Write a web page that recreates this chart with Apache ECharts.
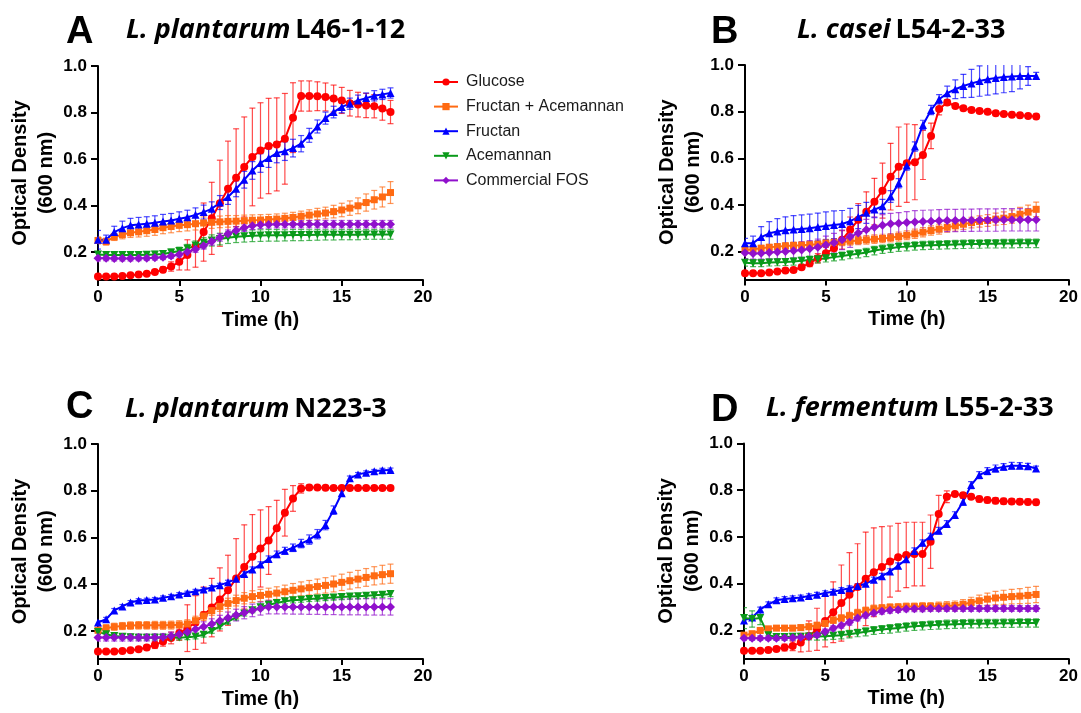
<!DOCTYPE html>
<html>
<head>
<meta charset="utf-8">
<script src="https://cdn.jsdelivr.net/npm/echarts@6/dist/echarts.min.js"></script>
<style>
html,body{margin:0;padding:0;background:#fff;}
#c{width:1081px;height:713px;}
</style>
</head>
<body>
<div id="c"></div>
<script>
// ---------- DATA ----------
const TIME = [0,0.5,1,1.5,2,2.5,3,3.5,4,4.5,5,5.5,6,6.5,7,7.5,8,8.5,9,9.5,10,10.5,11,11.5,12,12.5,13,13.5,14,14.5,15,15.5,16,16.5,17,17.5,18];
const X_TICKS = [0,5,10,15,20];
const Y_TICKS = [0.2,0.4,0.6,0.8,1.0];
const SERIES_NAMES = ['Glucose','Fructan + Acemannan','Fructan','Acemannan','Commercial FOS'];
const PANEL_LETTERS = ['A','B','C','D'];
const PANEL_SPECIES = ['L. plantarum','L. casei','L. plantarum','L. fermentum'];
const PANEL_STRAINS = ['L46-1-12','L54-2-33','N223-3','L55-2-33'];

// Panel A
const A_GLU = [0.095,0.095,0.095,0.097,0.100,0.104,0.107,0.114,0.124,0.138,0.158,0.188,0.225,0.286,0.345,0.410,0.472,0.520,0.566,0.609,0.637,0.656,0.663,0.687,0.778,0.871,0.871,0.870,0.867,0.860,0.852,0.840,0.834,0.830,0.827,0.817,0.802];
const A_GLU_SD = [0.005,0.005,0.005,0.005,0.005,0.006,0.007,0.010,0.012,0.020,0.035,0.065,0.090,0.125,0.155,0.185,0.205,0.210,0.215,0.210,0.205,0.205,0.200,0.195,0.150,0.065,0.065,0.062,0.060,0.058,0.056,0.055,0.053,0.052,0.050,0.050,0.050];
const A_FA = [0.250,0.245,0.265,0.275,0.283,0.287,0.292,0.297,0.305,0.310,0.315,0.318,0.322,0.325,0.328,0.330,0.332,0.333,0.335,0.337,0.338,0.340,0.342,0.345,0.349,0.354,0.359,0.364,0.368,0.374,0.381,0.389,0.399,0.413,0.425,0.437,0.456];
const A_FA_SD = [0.015,0.015,0.015,0.018,0.020,0.022,0.024,0.025,0.026,0.027,0.027,0.027,0.027,0.026,0.026,0.025,0.025,0.024,0.024,0.023,0.023,0.022,0.022,0.022,0.022,0.022,0.023,0.024,0.025,0.027,0.029,0.031,0.034,0.037,0.040,0.043,0.047];
const A_FRU = [0.253,0.253,0.286,0.303,0.315,0.319,0.322,0.326,0.332,0.336,0.343,0.350,0.360,0.372,0.386,0.413,0.437,0.472,0.511,0.551,0.583,0.604,0.626,0.634,0.647,0.666,0.702,0.740,0.776,0.802,0.824,0.838,0.852,0.862,0.872,0.878,0.884];
const A_FRU_SD = [0.040,0.020,0.025,0.030,0.030,0.030,0.030,0.030,0.030,0.030,0.030,0.030,0.030,0.030,0.030,0.030,0.032,0.034,0.036,0.038,0.040,0.040,0.042,0.040,0.038,0.035,0.030,0.028,0.026,0.025,0.025,0.024,0.023,0.022,0.022,0.022,0.022];
const A_ACE = [0.190,0.188,0.188,0.188,0.188,0.188,0.189,0.190,0.192,0.198,0.205,0.215,0.228,0.240,0.250,0.256,0.262,0.266,0.268,0.270,0.271,0.272,0.272,0.272,0.273,0.273,0.273,0.274,0.274,0.274,0.275,0.275,0.275,0.276,0.276,0.276,0.276];
const A_ACE_SD = [0.010,0.010,0.012,0.012,0.012,0.012,0.012,0.013,0.014,0.015,0.016,0.018,0.020,0.022,0.024,0.025,0.025,0.025,0.025,0.025,0.025,0.025,0.025,0.024,0.024,0.024,0.023,0.023,0.022,0.022,0.022,0.022,0.022,0.021,0.021,0.021,0.021];
const A_FOS = [0.174,0.173,0.172,0.172,0.172,0.173,0.174,0.176,0.178,0.183,0.190,0.200,0.212,0.227,0.245,0.263,0.279,0.293,0.305,0.313,0.317,0.319,0.320,0.320,0.320,0.320,0.320,0.320,0.320,0.320,0.320,0.320,0.320,0.320,0.320,0.320,0.320];
const A_FOS_SD = [0.012,0.010,0.010,0.010,0.010,0.010,0.010,0.010,0.010,0.010,0.011,0.012,0.013,0.014,0.015,0.016,0.016,0.016,0.016,0.016,0.016,0.016,0.016,0.016,0.016,0.016,0.016,0.016,0.016,0.016,0.016,0.016,0.016,0.016,0.016,0.016,0.016];

// Panel B
const B_GLU = [0.107,0.107,0.107,0.110,0.114,0.119,0.121,0.133,0.150,0.171,0.193,0.214,0.250,0.293,0.336,0.371,0.414,0.461,0.521,0.564,0.579,0.583,0.614,0.696,0.811,0.839,0.824,0.814,0.807,0.803,0.799,0.793,0.790,0.787,0.784,0.781,0.779];
const B_GLU_SD = [0.005,0.005,0.005,0.005,0.006,0.007,0.008,0.010,0.015,0.020,0.025,0.030,0.040,0.055,0.070,0.085,0.100,0.118,0.143,0.170,0.168,0.161,0.105,0.055,0.025,0.012,0.010,0.010,0.010,0.010,0.010,0.010,0.010,0.010,0.010,0.010,0.010];
const B_FA = [0.207,0.210,0.214,0.218,0.221,0.224,0.226,0.227,0.229,0.231,0.236,0.239,0.241,0.244,0.247,0.250,0.253,0.256,0.259,0.264,0.270,0.276,0.283,0.290,0.296,0.304,0.310,0.317,0.324,0.329,0.333,0.339,0.343,0.350,0.360,0.369,0.381];
const B_FA_SD = [0.012,0.012,0.012,0.013,0.013,0.014,0.014,0.015,0.015,0.015,0.016,0.016,0.016,0.017,0.017,0.018,0.018,0.018,0.018,0.019,0.019,0.020,0.020,0.020,0.021,0.021,0.022,0.022,0.023,0.024,0.025,0.026,0.027,0.028,0.029,0.030,0.031];
const B_FRU = [0.236,0.236,0.262,0.278,0.286,0.291,0.294,0.297,0.300,0.305,0.310,0.314,0.318,0.330,0.348,0.366,0.380,0.394,0.436,0.493,0.569,0.650,0.743,0.807,0.853,0.879,0.896,0.910,0.921,0.931,0.939,0.944,0.949,0.951,0.953,0.953,0.953];
const B_FRU_SD = [0.020,0.030,0.045,0.050,0.055,0.058,0.060,0.060,0.060,0.060,0.060,0.060,0.058,0.055,0.050,0.045,0.035,0.030,0.025,0.020,0.020,0.020,0.020,0.020,0.020,0.030,0.040,0.050,0.060,0.065,0.068,0.068,0.068,0.065,0.055,0.040,0.015];
const B_ACE = [0.152,0.150,0.150,0.153,0.154,0.155,0.157,0.160,0.164,0.167,0.171,0.176,0.181,0.186,0.190,0.196,0.204,0.210,0.214,0.219,0.221,0.224,0.226,0.227,0.228,0.229,0.230,0.231,0.232,0.232,0.233,0.233,0.234,0.234,0.235,0.235,0.235];
const B_ACE_SD = [0.015,0.015,0.015,0.015,0.015,0.015,0.015,0.015,0.016,0.016,0.016,0.016,0.017,0.017,0.017,0.018,0.018,0.018,0.018,0.018,0.018,0.018,0.018,0.018,0.018,0.018,0.018,0.018,0.018,0.018,0.018,0.018,0.018,0.018,0.018,0.018,0.018];
const B_FOS = [0.195,0.192,0.193,0.196,0.198,0.200,0.203,0.207,0.212,0.218,0.228,0.238,0.250,0.263,0.279,0.293,0.304,0.313,0.319,0.321,0.324,0.327,0.329,0.330,0.332,0.333,0.333,0.334,0.334,0.335,0.335,0.335,0.336,0.336,0.336,0.336,0.336];
const B_FOS_SD = [0.025,0.025,0.025,0.028,0.030,0.030,0.032,0.035,0.035,0.035,0.038,0.040,0.042,0.045,0.045,0.045,0.045,0.045,0.045,0.046,0.047,0.048,0.048,0.048,0.048,0.048,0.048,0.048,0.048,0.048,0.048,0.048,0.048,0.048,0.048,0.048,0.048];

// Panel C
const C_GLU = [0.112,0.112,0.112,0.114,0.117,0.122,0.129,0.140,0.155,0.170,0.190,0.212,0.236,0.268,0.300,0.335,0.374,0.425,0.474,0.518,0.553,0.587,0.639,0.706,0.767,0.810,0.814,0.814,0.813,0.812,0.812,0.812,0.812,0.812,0.812,0.812,0.812];
const C_GLU_SD = [0.005,0.005,0.005,0.005,0.006,0.008,0.010,0.015,0.020,0.025,0.030,0.100,0.115,0.120,0.125,0.135,0.150,0.170,0.180,0.180,0.165,0.145,0.120,0.100,0.055,0.020,0.010,0.008,0.008,0.008,0.008,0.008,0.008,0.008,0.008,0.008,0.008];
const C_FA = [0.203,0.212,0.218,0.221,0.223,0.224,0.224,0.224,0.224,0.225,0.226,0.230,0.244,0.264,0.287,0.305,0.318,0.330,0.340,0.347,0.352,0.357,0.362,0.368,0.374,0.380,0.385,0.390,0.395,0.401,0.408,0.415,0.422,0.429,0.436,0.441,0.445];
const C_FA_SD = [0.015,0.015,0.015,0.015,0.016,0.016,0.016,0.017,0.017,0.017,0.018,0.018,0.019,0.019,0.020,0.021,0.022,0.023,0.024,0.025,0.026,0.026,0.027,0.028,0.029,0.030,0.031,0.032,0.033,0.034,0.035,0.036,0.037,0.038,0.039,0.040,0.041];
const C_FRU = [0.236,0.250,0.288,0.305,0.322,0.330,0.332,0.335,0.342,0.348,0.356,0.362,0.370,0.377,0.386,0.396,0.408,0.423,0.444,0.463,0.484,0.508,0.528,0.543,0.556,0.574,0.591,0.614,0.653,0.717,0.789,0.853,0.870,0.877,0.883,0.888,0.889];
const C_FRU_SD = [0.008,0.008,0.008,0.008,0.008,0.008,0.008,0.008,0.008,0.008,0.008,0.008,0.008,0.008,0.008,0.008,0.009,0.010,0.010,0.011,0.012,0.013,0.014,0.015,0.016,0.018,0.020,0.020,0.020,0.018,0.012,0.010,0.008,0.008,0.008,0.008,0.008];
const C_ACE = [0.196,0.186,0.178,0.175,0.173,0.171,0.171,0.171,0.171,0.171,0.172,0.173,0.176,0.184,0.200,0.220,0.240,0.258,0.275,0.289,0.301,0.312,0.320,0.327,0.331,0.334,0.337,0.339,0.341,0.343,0.345,0.347,0.349,0.351,0.353,0.355,0.358];
const C_ACE_SD = [0.010,0.010,0.010,0.010,0.010,0.010,0.010,0.010,0.010,0.010,0.010,0.010,0.010,0.010,0.010,0.011,0.011,0.011,0.011,0.011,0.011,0.011,0.011,0.011,0.011,0.011,0.011,0.011,0.011,0.011,0.011,0.011,0.011,0.011,0.011,0.011,0.011];
const C_FOS = [0.172,0.172,0.172,0.172,0.172,0.172,0.172,0.172,0.173,0.178,0.186,0.196,0.207,0.218,0.230,0.244,0.257,0.268,0.278,0.288,0.296,0.302,0.303,0.303,0.303,0.303,0.303,0.303,0.303,0.303,0.303,0.303,0.303,0.303,0.303,0.303,0.303];
const C_FOS_SD = [0.015,0.015,0.015,0.015,0.015,0.015,0.015,0.016,0.016,0.017,0.018,0.019,0.020,0.021,0.022,0.023,0.024,0.025,0.026,0.027,0.028,0.029,0.030,0.030,0.031,0.031,0.032,0.032,0.033,0.033,0.034,0.034,0.034,0.035,0.035,0.035,0.035];

// Panel D
const D_GLU = [0.113,0.113,0.113,0.116,0.121,0.127,0.134,0.148,0.176,0.205,0.240,0.278,0.317,0.353,0.386,0.421,0.449,0.472,0.495,0.513,0.523,0.527,0.527,0.580,0.698,0.772,0.784,0.779,0.772,0.762,0.758,0.755,0.753,0.752,0.751,0.750,0.749];
const D_GLU_SD = [0.005,0.005,0.005,0.008,0.010,0.015,0.020,0.040,0.065,0.090,0.110,0.130,0.163,0.180,0.185,0.200,0.190,0.172,0.152,0.145,0.140,0.136,0.136,0.114,0.080,0.025,0.008,0.010,0.010,0.012,0.012,0.012,0.012,0.012,0.012,0.012,0.012];
const D_FA = [0.180,0.186,0.200,0.207,0.210,0.210,0.210,0.212,0.216,0.222,0.230,0.244,0.253,0.263,0.275,0.285,0.293,0.296,0.299,0.300,0.302,0.302,0.303,0.303,0.304,0.305,0.307,0.312,0.320,0.327,0.334,0.339,0.342,0.345,0.347,0.350,0.354];
const D_FA_SD = [0.010,0.010,0.010,0.010,0.010,0.011,0.011,0.012,0.012,0.013,0.013,0.014,0.014,0.015,0.015,0.015,0.015,0.015,0.015,0.015,0.015,0.015,0.016,0.016,0.017,0.018,0.019,0.020,0.022,0.024,0.026,0.028,0.030,0.031,0.032,0.034,0.035];
const D_FRU = [0.243,0.255,0.290,0.312,0.329,0.335,0.338,0.341,0.347,0.353,0.360,0.366,0.373,0.381,0.390,0.400,0.417,0.432,0.452,0.477,0.505,0.540,0.575,0.603,0.627,0.656,0.694,0.751,0.822,0.865,0.882,0.893,0.900,0.905,0.905,0.903,0.893];
const D_FRU_SD = [0.010,0.010,0.010,0.010,0.010,0.010,0.010,0.010,0.010,0.010,0.010,0.010,0.010,0.010,0.011,0.011,0.011,0.012,0.012,0.012,0.013,0.013,0.013,0.013,0.014,0.014,0.014,0.015,0.015,0.015,0.015,0.015,0.014,0.014,0.013,0.012,0.010];
const D_ACE = [0.253,0.249,0.253,0.180,0.172,0.172,0.173,0.173,0.174,0.174,0.175,0.177,0.180,0.184,0.189,0.194,0.200,0.204,0.207,0.211,0.215,0.218,0.220,0.222,0.224,0.226,0.227,0.228,0.229,0.229,0.230,0.230,0.231,0.231,0.232,0.232,0.232];
const D_ACE_SD = [0.045,0.035,0.028,0.015,0.012,0.013,0.013,0.014,0.014,0.015,0.015,0.015,0.016,0.016,0.016,0.017,0.017,0.017,0.018,0.018,0.018,0.018,0.018,0.018,0.018,0.018,0.018,0.018,0.018,0.018,0.018,0.018,0.018,0.018,0.018,0.018,0.018];
const D_FOS = [0.167,0.167,0.167,0.167,0.167,0.168,0.169,0.171,0.174,0.181,0.195,0.209,0.221,0.235,0.253,0.265,0.275,0.282,0.286,0.289,0.292,0.293,0.293,0.294,0.294,0.294,0.294,0.294,0.294,0.294,0.294,0.294,0.294,0.294,0.294,0.294,0.294];
const D_FOS_SD = [0.010,0.010,0.010,0.010,0.010,0.010,0.010,0.010,0.010,0.010,0.011,0.011,0.011,0.012,0.012,0.012,0.012,0.012,0.012,0.012,0.012,0.012,0.012,0.012,0.012,0.012,0.012,0.012,0.012,0.012,0.012,0.012,0.012,0.012,0.012,0.012,0.012];

const PANEL_VALUES = [
  [A_GLU, A_FA, A_FRU, A_ACE, A_FOS],
  [B_GLU, B_FA, B_FRU, B_ACE, B_FOS],
  [C_GLU, C_FA, C_FRU, C_ACE, C_FOS],
  [D_GLU, D_FA, D_FRU, D_ACE, D_FOS]
];
const PANEL_SDS = [
  [A_GLU_SD, A_FA_SD, A_FRU_SD, A_ACE_SD, A_FOS_SD],
  [B_GLU_SD, B_FA_SD, B_FRU_SD, B_ACE_SD, B_FOS_SD],
  [C_GLU_SD, C_FA_SD, C_FRU_SD, C_ACE_SD, C_FOS_SD],
  [D_GLU_SD, D_FA_SD, D_FRU_SD, D_ACE_SD, D_FOS_SD]
];

// ---------- STYLE / LAYOUT ----------
const COLORS = ['#ff0000','#ff6a12','#0000ff','#0a9a1a','#9010cc'];
const SYMBOLS = ['circle','rect','triangle','triangle','diamond'];
const SYMBOL_ROT = [0,0,0,180,0];
const SYMBOL_SIZE = [8,7,8,8,9];
const GRIDS = [
  {left:98, top:66, width:325, height:214},
  {left:745, top:65, width:325, height:214.5},
  {left:98, top:444, width:325, height:215},
  {left:744, top:443.5, width:324.5, height:215}
];
const LETTER_POS = [[66,14],[711,14],[66,389],[711,392]];
const TITLE_POS = [[126,15],[797,15],[125,394],[766,393]];

const AX_FONT = 'Liberation Sans, Arial, sans-serif';

const chart = echarts.init(document.getElementById('c'), null, {renderer:'canvas'});

const grid = GRIDS.map(g => Object.assign({containLabel:false}, g));
const xAxis = GRIDS.map((g,i) => ({
  type:'value', gridIndex:i, min:0, max:20, interval:5,
  axisLine:{show:true, onZero:false, lineStyle:{color:'#000', width:2}},
  axisTick:{show:true, length:6, lineStyle:{color:'#000', width:2}},
  axisLabel:{color:'#000', fontFamily:AX_FONT, fontWeight:'bold', fontSize:17, margin:9,
    showMinLabel:true, showMaxLabel:true},
  splitLine:{show:false},
  name:'Time (h)', nameLocation:'middle', nameGap:30,
  nameTextStyle:{color:'#000', fontFamily:AX_FONT, fontWeight:'bold', fontSize:20}
}));
const yAxis = GRIDS.map((g,i) => ({
  type:'value', gridIndex:i, min:0.08, max:1.0,
  axisLine:{show:true, onZero:false, lineStyle:{color:'#000', width:2}},
  axisTick:{show:true, length:7, customValues:Y_TICKS, lineStyle:{color:'#000', width:2}},
  axisLabel:{color:'#000', fontFamily:AX_FONT, fontWeight:'bold', fontSize:17, margin:11,
    customValues:Y_TICKS, formatter: v => Number(v).toFixed(1)},
  splitLine:{show:false},
  name:'Optical Density\n(600 nm)', nameLocation:'middle', nameGap:35, nameRotate:90,
  nameTextStyle:{color:'#000', fontFamily:AX_FONT, fontWeight:'bold', fontSize:20, lineHeight:26}
}));

const series = [];
PANEL_VALUES.forEach((vals, p) => {
  vals.forEach((arr, s) => {
    const sd = PANEL_SDS[p][s];
    const color = COLORS[s];
    series.push({
      type:'custom', name:'sd-' + p + '-' + s, xAxisIndex:p, yAxisIndex:p, z:1, silent:true, clip:true,
      renderItem: function(params, api){
        const t = api.value(0), lo = api.value(1), hi = api.value(2);
        const a = api.coord([t, hi]), b = api.coord([t, lo]);
        const w = 3;
        const st = {stroke:color, lineWidth:1.2, opacity:0.7};
        return {type:'group', children:[
          {type:'line', shape:{x1:a[0], y1:a[1], x2:b[0], y2:b[1]}, style:st},
          {type:'line', shape:{x1:a[0]-w, y1:a[1], x2:a[0]+w, y2:a[1]}, style:st},
          {type:'line', shape:{x1:b[0]-w, y1:b[1], x2:b[0]+w, y2:b[1]}, style:st}
        ]};
      },
      data: TIME.map((t, k) => [t, arr[k] - sd[k], arr[k] + sd[k]])
    });
  });
});
PANEL_VALUES.forEach((vals, p) => {
  vals.forEach((arr, s) => {
    series.push({
      type:'line', name:SERIES_NAMES[s], xAxisIndex:p, yAxisIndex:p, z:3,
      symbol:SYMBOLS[s], symbolRotate:SYMBOL_ROT[s], symbolSize:SYMBOL_SIZE[s], showAllSymbol:true,
      lineStyle:{color:COLORS[s], width:2},
      itemStyle:{color:COLORS[s], borderWidth:0},
      emphasis:{disabled:true}, animation:false,
      data: TIME.map((t, k) => [t, arr[k]])
    });
  });
});

const titles = [];
PANEL_LETTERS.forEach((L, i) => {
  titles.push({text:L, left:LETTER_POS[i][0], top:LETTER_POS[i][1], padding:0,
    textStyle:{color:'#000', fontFamily:AX_FONT, fontWeight:'bold', fontSize:38, lineHeight:38}});
  titles.push({text:'{i|' + PANEL_SPECIES[i] + '} {n|' + PANEL_STRAINS[i] + '}',
    left:TITLE_POS[i][0], top:TITLE_POS[i][1], padding:0,
    textStyle:{rich:{
      i:{fontFamily:'Open Sans', fontStyle:'italic', fontWeight:'bold', fontSize:27, color:'#000', lineHeight:30},
      n:{fontFamily:'Open Sans', fontWeight:'bold', fontSize:27, color:'#000', lineHeight:30}
    }}});
});

chart.setOption({
  animation:false,
  backgroundColor:'#fff',
  title:titles,
  legend:{
    orient:'vertical', left:428, top:69, data:SERIES_NAMES,
    itemWidth:24, itemHeight:9, itemGap:8.6,
    textStyle:{color:'#1a1a1a', fontFamily:AX_FONT, fontSize:16, padding:[0,0,0,3]},
    selectedMode:false
  },
  grid:grid, xAxis:xAxis, yAxis:yAxis, series:series
});
</script>
</body>
</html>
